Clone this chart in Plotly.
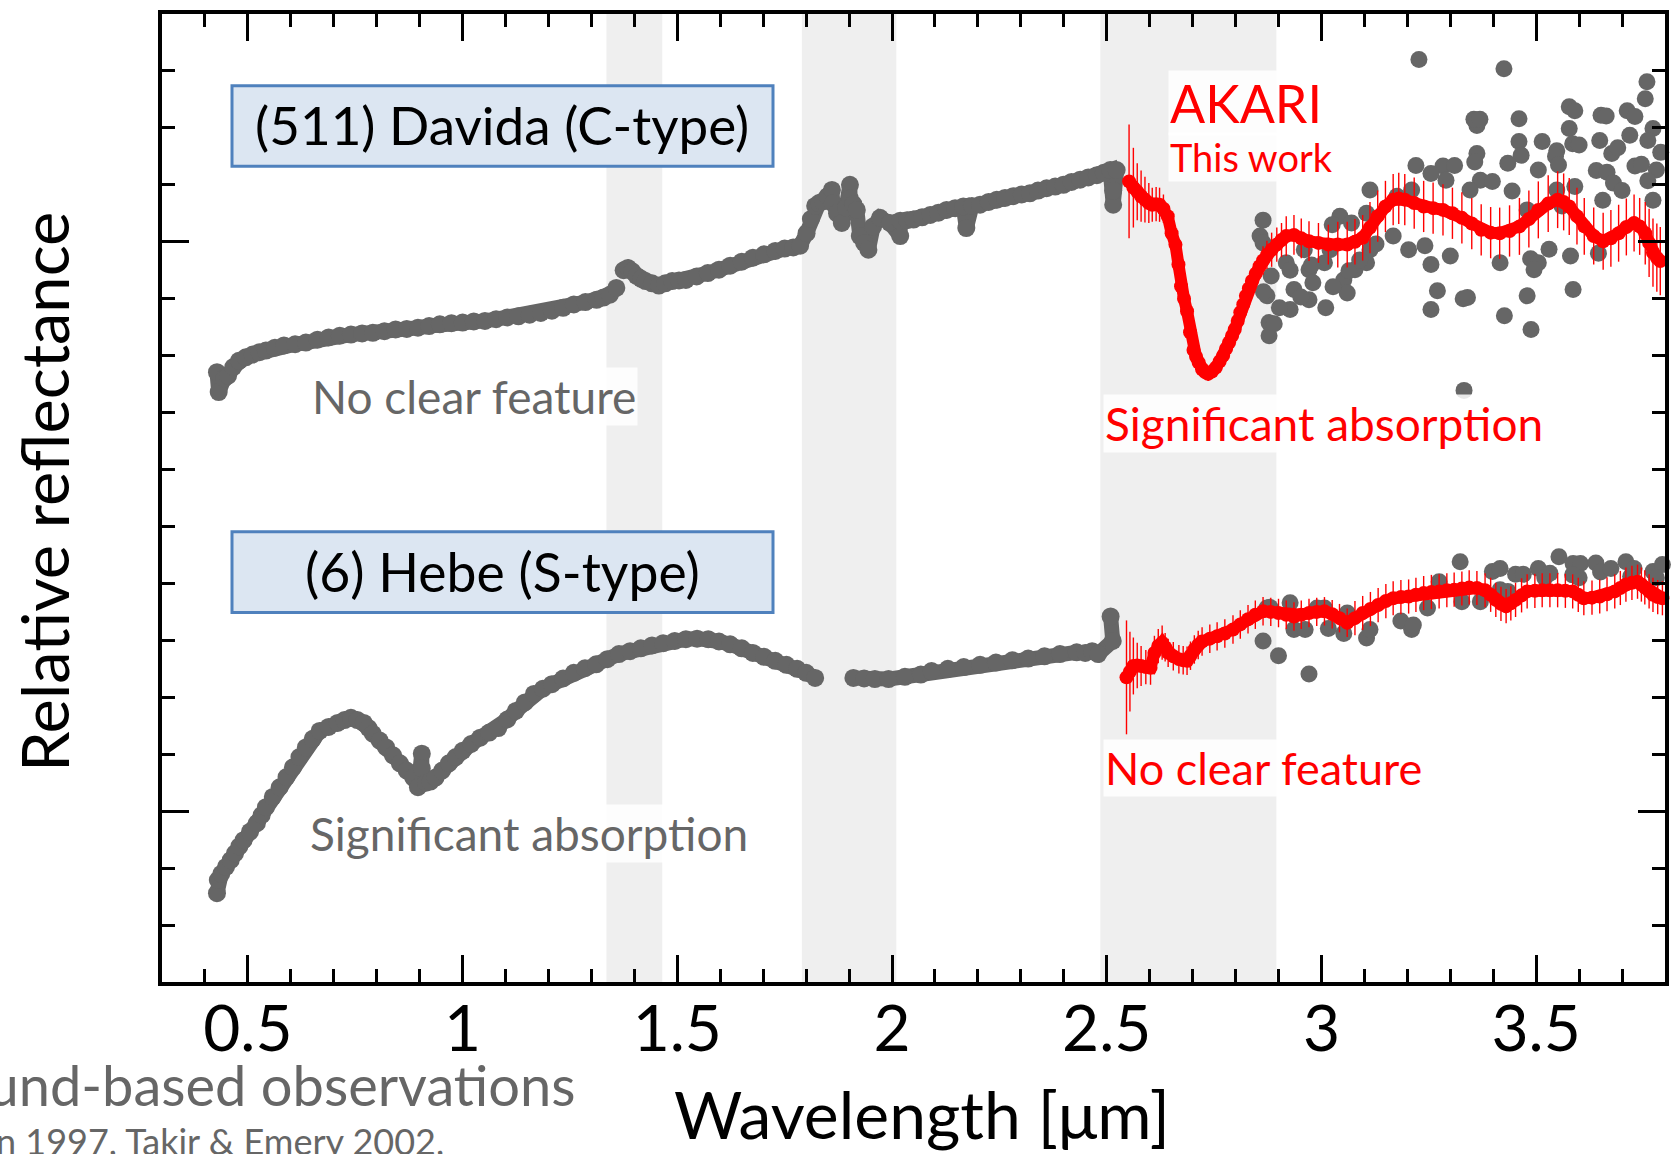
import plotly.graph_objects as go

# ---------------- data ----------------
# Ground-based spectrum, (511) Davida, 0.43-2.53 um (None = gap)
davida_gb_x = [0.428,0.432,0.445,0.454,0.466,0.479,0.495,0.511,0.527,0.542,0.563,0.584,0.610,0.635,0.662,0.688,0.714,0.740,0.766,0.791,0.818,0.844,0.870,0.896,0.922,0.947,0.974,1.000,1.026,1.052,1.078,1.104,1.130,1.156,1.182,1.208,1.234,1.259,1.286,1.312,1.328,1.343,1.358,None,
               1.375,1.385,1.395,1.405,1.416,1.426,1.441,1.457,1.472,1.488,1.504,1.520,1.545,1.571,1.597,1.623,1.650,1.676,1.702,1.728,1.750,1.770,1.786,1.801,1.811,1.821,1.830,1.839,1.850,1.860,1.862,1.872,1.883,1.893,1.902,1.902,1.910,1.918,1.925,1.935,1.945,1.956,1.972,1.995,2.019,2.019,2.035,2.050,2.070,2.089,2.108,2.127,2.147,2.166,2.173,2.186,2.205,2.225,2.244,2.263,2.282,2.302,2.321,2.340,2.360,2.380,2.399,2.418,2.438,2.457,2.477,2.493,2.508,2.515,2.515,2.523]
davida_gb_y = [1.771,1.736,1.760,1.765,1.780,1.791,1.797,1.802,1.806,1.809,1.814,1.818,1.820,1.823,1.828,1.832,1.835,1.837,1.839,1.840,1.843,1.846,1.847,1.849,1.852,1.855,1.857,1.858,1.860,1.861,1.864,1.867,1.869,1.872,1.875,1.879,1.884,1.890,1.894,1.898,1.902,1.907,1.919,None,
               1.950,1.954,1.948,1.940,1.935,1.931,1.927,1.923,1.927,1.931,1.932,1.933,1.939,1.945,1.951,1.958,1.965,1.972,1.978,1.984,1.988,1.990,1.993,2.015,2.040,2.063,2.068,2.071,2.080,2.091,2.068,2.050,2.033,2.060,2.100,2.076,2.066,2.056,2.010,1.998,1.986,2.027,2.042,2.033,2.010,2.037,2.038,2.039,2.043,2.047,2.051,2.056,2.059,2.062,2.024,2.063,2.065,2.070,2.074,2.077,2.080,2.083,2.085,2.090,2.094,2.097,2.100,2.105,2.109,2.113,2.117,2.121,2.126,2.065,2.090,2.126]

# Ground-based 3-um data, Davida (scattered)
davida_gb3_x = [3.425,3.227,3.758,3.754,3.577,3.590,3.362,3.355,3.460,3.651,3.712,3.730,3.577,3.772,3.460,3.514,3.548,3.648,3.585,3.600,3.718,3.760,3.465,3.362,3.357,3.676,3.690,3.790,3.434,3.505,3.545,3.552,3.220,3.283,3.310,3.640,3.665,3.730,3.745,3.780,3.370,3.398,3.444,3.346,3.113,3.176,3.210,3.255,3.290,3.548,3.590,3.680,3.700,3.760,3.479,3.560,3.772,3.655,2.864,2.857,2.864,3.043,3.025,3.070,3.105,3.167,3.203,3.241,3.255,3.300,3.416,3.487,3.505,3.495,3.530,3.580,3.645,3.586,3.479,3.426,3.488,3.330,3.340,3.270,3.255,3.332,2.883,2.918,2.936,2.971,2.980,2.971,2.927,2.873,2.878,2.878,3.007,3.052,3.060,3.078,3.105,3.113,3.020,2.960,2.865,2.902,2.927,2.952,2.977,2.890,3.027,3.064,3.010,3.089,3.127,3.369,3.663]
davida_gb3_y = [2.304,2.320,2.281,2.251,2.237,2.230,2.204,2.215,2.216,2.222,2.230,2.220,2.199,2.199,2.176,2.176,2.160,2.178,2.172,2.170,2.187,2.178,2.152,2.155,2.140,2.155,2.165,2.157,2.138,2.126,2.150,2.135,2.134,2.133,2.134,2.125,2.122,2.133,2.136,2.126,2.108,2.106,2.089,2.091,2.091,2.080,2.091,2.120,2.108,2.091,2.097,2.103,2.090,2.107,2.056,2.063,2.073,2.073,2.038,2.010,1.998,2.045,2.030,2.033,2.050,2.010,1.986,1.993,1.960,1.975,1.963,1.970,1.963,1.951,1.987,1.975,1.980,1.916,1.905,1.870,1.846,1.900,1.902,1.914,1.881,1.739,1.940,1.963,1.916,1.951,1.928,1.898,1.881,1.905,1.858,1.835,1.963,1.933,1.910,1.951,1.963,1.986,1.986,1.986,1.912,1.884,1.950,1.903,1.959,1.856,1.921,1.949,1.884,1.968,1.996,2.215,2.221]

# AKARI spectrum, Davida
davida_ak_x = [2.552,2.562,2.571,2.580,2.589,2.598,2.606,2.615,2.623,2.632,2.642,2.651,2.660,2.667,2.673,2.680,2.687,2.694,2.702,2.708,2.714,2.722,2.729,2.736,2.745,2.754,2.763,2.771,2.778,2.785,2.792,2.798,2.805,2.811,2.818,2.824,2.831,2.838,2.847,2.856,2.864,2.873,2.884,2.896,2.907,2.918,2.936,2.953,2.971,2.993,3.016,3.038,3.060,3.078,3.096,3.113,3.131,3.149,3.167,3.180,3.194,3.216,3.238,3.260,3.283,3.305,3.327,3.350,3.372,3.394,3.415,3.438,3.461,3.483,3.505,3.528,3.550,3.564,3.577,3.595,3.612,3.634,3.656,3.674,3.692,3.710,3.728,3.741,3.754,3.763,3.772,3.781,3.789]
davida_ak_y = [2.106,2.095,2.088,2.080,2.074,2.068,2.065,2.066,2.065,2.058,2.045,2.015,1.995,1.960,1.922,1.900,1.878,1.841,1.810,1.798,1.788,1.776,1.771,1.768,1.772,1.779,1.790,1.800,1.812,1.823,1.835,1.846,1.861,1.876,1.890,1.905,1.918,1.931,1.944,1.957,1.967,1.977,1.986,1.995,2.003,2.010,2.012,2.006,2.001,1.998,1.995,1.995,1.995,2.000,2.007,2.025,2.045,2.062,2.074,2.076,2.074,2.068,2.062,2.059,2.056,2.050,2.042,2.032,2.021,2.016,2.015,2.019,2.027,2.040,2.056,2.067,2.074,2.070,2.062,2.045,2.027,2.010,2.001,2.006,2.015,2.026,2.033,2.027,2.015,1.998,1.981,1.972,1.966]
davida_ak_err = [0.100,0.070,0.050,0.045,0.040,0.035,0.030,0.030,0.030,0.025,0.020,0.020,0.020,0.015,0.015,0.015,0.015,0.015,0.015,0.012,0.012,0.012,0.012,0.012,0.012,0.012,0.012,0.012,0.012,0.012,0.012,0.015,0.015,0.015,0.015,0.015,0.020,0.020,0.020,0.020,0.025,0.025,0.030,0.030,0.030,0.035,0.035,0.035,0.035,0.035,0.035,0.040,0.040,0.040,0.040,0.045,0.045,0.045,0.045,0.045,0.045,0.045,0.045,0.045,0.045,0.045,0.045,0.045,0.045,0.045,0.045,0.045,0.050,0.050,0.050,0.050,0.050,0.050,0.050,0.050,0.050,0.050,0.050,0.050,0.050,0.050,0.050,0.050,0.055,0.060,0.060,0.060,0.060]

# Ground-based spectrum, (6) Hebe, 0.43-2.52 um (None = gap)
hebe_gb_x = [0.428,0.430,0.438,0.449,0.460,0.470,0.480,0.490,0.505,0.521,0.532,0.542,0.558,0.574,0.590,0.605,0.620,0.635,0.651,0.667,0.688,0.709,0.725,0.740,0.755,0.770,0.781,0.791,0.807,0.822,0.838,0.854,0.870,0.885,0.896,0.905,0.905,0.915,0.925,0.937,0.952,0.968,0.984,1.000,1.020,1.041,1.062,1.083,1.104,1.124,1.145,1.166,1.187,1.208,1.234,1.259,1.285,1.311,1.337,1.364,1.390,1.415,1.441,1.467,1.494,1.520,1.546,1.572,1.597,1.623,1.650,1.676,1.702,1.728,1.754,1.779,1.800,1.821,None,
             1.910,1.935,1.960,1.992,2.030,2.067,2.092,2.130,2.167,2.205,2.242,2.280,2.317,2.355,2.391,2.430,2.450,2.466,2.480,2.514,2.509]
hebe_gb_y = [0.856,0.879,0.890,0.902,0.914,0.926,0.938,0.949,0.964,0.979,0.993,1.007,1.025,1.042,1.060,1.077,1.095,1.112,1.127,1.141,1.148,1.155,1.160,1.164,1.160,1.155,1.146,1.136,1.124,1.112,1.098,1.084,1.071,1.059,1.042,1.101,1.075,1.050,1.052,1.059,1.071,1.084,1.095,1.106,1.118,1.129,1.138,1.146,1.161,1.176,1.191,1.206,1.215,1.223,1.233,1.243,1.251,1.258,1.267,1.276,1.281,1.286,1.291,1.295,1.299,1.302,1.303,1.302,1.298,1.293,1.286,1.278,1.271,1.264,1.257,1.250,1.243,1.234,None,
             1.234,1.233,1.232,1.232,1.236,1.240,1.246,1.250,1.253,1.257,1.261,1.265,1.268,1.272,1.276,1.279,1.278,1.281,1.276,1.299,1.342]

# Ground-based 3-um data, Hebe (scattered)
hebe_gb3_x = [2.864,2.900,2.971,2.873,2.880,2.927,2.936,2.962,2.990,3.007,3.016,3.052,3.060,3.105,3.113,3.185,3.210,3.214,3.247,3.274,3.323,3.327,3.370,3.398,3.416,3.434,3.452,3.470,3.505,3.532,3.553,3.520,3.586,3.603,3.639,3.650,3.674,3.709,3.728,3.772,3.794,3.780,3.416,3.600,3.585,3.720]
hebe_gb3_y = [1.299,1.273,1.241,1.357,1.358,1.366,1.319,1.319,1.357,1.357,1.321,1.312,1.348,1.304,1.319,1.334,1.319,1.327,1.357,1.403,1.438,1.368,1.368,1.421,1.426,1.386,1.416,1.416,1.426,1.418,1.447,1.410,1.435,1.435,1.436,1.420,1.426,1.438,1.426,1.421,1.433,1.410,1.389,1.410,1.415,1.412]

# AKARI spectrum, Hebe
hebe_ak_x = [2.546,2.554,2.562,2.571,2.580,2.591,2.602,2.611,2.620,2.629,2.636,2.643,2.655,2.668,2.678,2.687,2.695,2.704,2.713,2.722,2.740,2.757,2.775,2.794,2.811,2.829,2.846,2.864,2.882,2.900,2.918,2.936,2.953,2.971,2.989,3.007,3.025,3.042,3.060,3.078,3.096,3.114,3.132,3.150,3.167,3.185,3.203,3.220,3.238,3.256,3.274,3.292,3.309,3.327,3.344,3.362,3.381,3.394,3.406,3.418,3.430,3.441,3.452,3.466,3.479,3.497,3.514,3.532,3.550,3.568,3.585,3.598,3.611,3.630,3.648,3.665,3.683,3.696,3.709,3.723,3.736,3.745,3.753,3.763,3.772,3.783,3.794]
hebe_ak_y = [1.235,1.245,1.255,1.256,1.255,1.253,1.252,1.278,1.290,1.296,1.288,1.278,1.272,1.267,1.265,1.264,1.273,1.284,1.292,1.298,1.303,1.307,1.312,1.319,1.328,1.337,1.345,1.351,1.350,1.348,1.345,1.342,1.345,1.348,1.350,1.351,1.346,1.339,1.331,1.339,1.348,1.355,1.362,1.369,1.374,1.376,1.377,1.380,1.383,1.385,1.386,1.388,1.389,1.391,1.393,1.392,1.388,1.380,1.371,1.364,1.360,1.365,1.371,1.379,1.386,1.387,1.388,1.388,1.388,1.387,1.386,1.380,1.374,1.375,1.377,1.381,1.386,1.392,1.398,1.401,1.403,1.398,1.393,1.386,1.380,1.376,1.374]
hebe_ak_err = [0.100,0.070,0.050,0.040,0.035,0.030,0.030,0.030,0.030,0.030,0.025,0.025,0.025,0.025,0.025,0.025,0.025,0.025,0.025,0.025,0.025,0.025,0.025,0.025,0.025,0.025,0.025,0.025,0.025,0.025,0.025,0.025,0.025,0.025,0.025,0.025,0.025,0.025,0.025,0.030,0.030,0.030,0.030,0.030,0.030,0.030,0.030,0.030,0.030,0.030,0.030,0.030,0.030,0.030,0.030,0.030,0.030,0.030,0.030,0.030,0.030,0.030,0.030,0.030,0.030,0.030,0.030,0.030,0.030,0.030,0.030,0.030,0.030,0.030,0.030,0.030,0.030,0.030,0.030,0.030,0.030,0.030,0.030,0.030,0.030,0.030,0.030]

# Shaded wavelength bands (um)
band_lo = [1.335, 1.790, 2.485]
band_hi = [1.465, 2.010, 2.895]

x_range = [0.3, 3.8]
y_range = [0.7, 2.4]

# ---------------- styles ----------------
GRAY = "#666666"
RED = "#ff0000"
FONT = "Lato, 'Open Sans', sans-serif"
W, H = 1679, 1154
ML, MR, MT, MB = 162, 14, 10, 172
PW, PH = W - ML - MR, H - MT - MB


def px(X):
    return (X - ML) / PW


def py(Y):
    return (H - MB - Y) / PH


fig = go.Figure()

gb_style = dict(mode="lines+markers", line=dict(color=GRAY, width=15),
                marker=dict(color=GRAY, size=18), showlegend=False,
                cliponaxis=False, hoverinfo="x+y")
fig.add_trace(go.Scatter(x=davida_gb_x, y=davida_gb_y, **gb_style))
fig.add_trace(go.Scatter(x=hebe_gb_x, y=hebe_gb_y, **gb_style))

sc_style = dict(mode="markers", marker=dict(color=GRAY, size=17),
                showlegend=False, cliponaxis=False)
fig.add_trace(go.Scatter(x=davida_gb3_x, y=davida_gb3_y, **sc_style))
fig.add_trace(go.Scatter(x=hebe_gb3_x, y=hebe_gb3_y, **sc_style))

for xs, ys, es in [(davida_ak_x, davida_ak_y, davida_ak_err),
                   (hebe_ak_x, hebe_ak_y, hebe_ak_err)]:
    fig.add_trace(go.Scatter(
        x=xs, y=ys, mode="lines+markers",
        line=dict(color=RED, width=12),
        marker=dict(color=RED, size=14),
        error_y=dict(type="data", array=es, visible=True, color=RED,
                     thickness=1.4, width=0),
        showlegend=False, cliponaxis=False))

shapes = []
for lo, hi in zip(band_lo, band_hi):
    shapes.append(dict(type="rect", xref="x", yref="paper", x0=lo, x1=hi,
                       y0=0, y1=1, fillcolor="#efefef", line=dict(width=0),
                       layer="below"))

# label boxes (pixel layout)
for (Y0, Y1) in [(82, 163), (530, 611)]:
    shapes.append(dict(type="rect", xref="paper", yref="paper",
                       x0=px(232), x1=px(773), y0=py(Y1), y1=py(Y0),
                       fillcolor="#dce6f2", line=dict(color="#4f81bd", width=3),
                       layer="above"))

ann = []
HALO = "rgba(255,255,255,0.85)"


def text(t, X, Y, size, color, xanchor="center", bg=None, angle=0):
    d = dict(text=t, x=px(X), y=py(Y), xref="paper", yref="paper",
             showarrow=False, xanchor=xanchor, yanchor="middle",
             font=dict(family=FONT, size=size, color=color), textangle=angle)
    if bg:
        d["bgcolor"] = bg
    ann.append(d)


text("(511) Davida (C-type)", 502, 121, 53, "black")
text("(6) Hebe (S-type)", 502, 569, 53.5, "black")
text("No clear feature", 474, 394, 46, GRAY, bg=HALO)
text("Significant absorption", 529, 833, 46, GRAY, bg=HALO)
text("AKARI", 1168, 99, 52, RED, xanchor="left", bg=HALO)
text("This work", 1168, 154, 38, RED, xanchor="left", bg=HALO)
text("Significant absorption", 1103, 421, 46, RED, xanchor="left", bg=HALO)
text("No clear feature", 1103, 767, 45, RED, xanchor="left", bg=HALO)
text("Wavelength [μm]", 922, 1114, 66, "black")
text("Relative reflectance", 44, 490, 65, "black", angle=-90)
text("Ground-based observations", 578, 1085, 56, GRAY, xanchor="right")
text("n 1997, Takir &amp; Emery 2002,", -6, 1142, 36, GRAY, xanchor="left")

axis_common = dict(showline=True, linecolor="black", linewidth=3.5,
                   mirror="ticks", ticks="inside", tickcolor="black",
                   tickwidth=3, showgrid=False, zeroline=False)

fig.update_layout(
    width=W, height=H,
    margin=dict(l=ML, r=MR, t=MT, b=MB, pad=0),
    paper_bgcolor="white", plot_bgcolor="white",
    shapes=shapes, annotations=ann,
    xaxis=dict(range=x_range, tick0=0, dtick=0.5, ticklen=27,
               tickfont=dict(family=FONT, size=64, color="black"),
               ticklabelstandoff=-12,
               minor=dict(dtick=0.1, ticklen=13, tickwidth=3,
                          tickcolor="black", ticks="inside", showgrid=False),
               **axis_common),
    yaxis=dict(range=y_range, tick0=1.0, dtick=1.0, ticklen=27,
               showticklabels=False,
               minor=dict(dtick=0.1, ticklen=13, tickwidth=3,
                          tickcolor="black", ticks="inside", showgrid=False),
               **axis_common),
)

fig.write_html("out.html")
